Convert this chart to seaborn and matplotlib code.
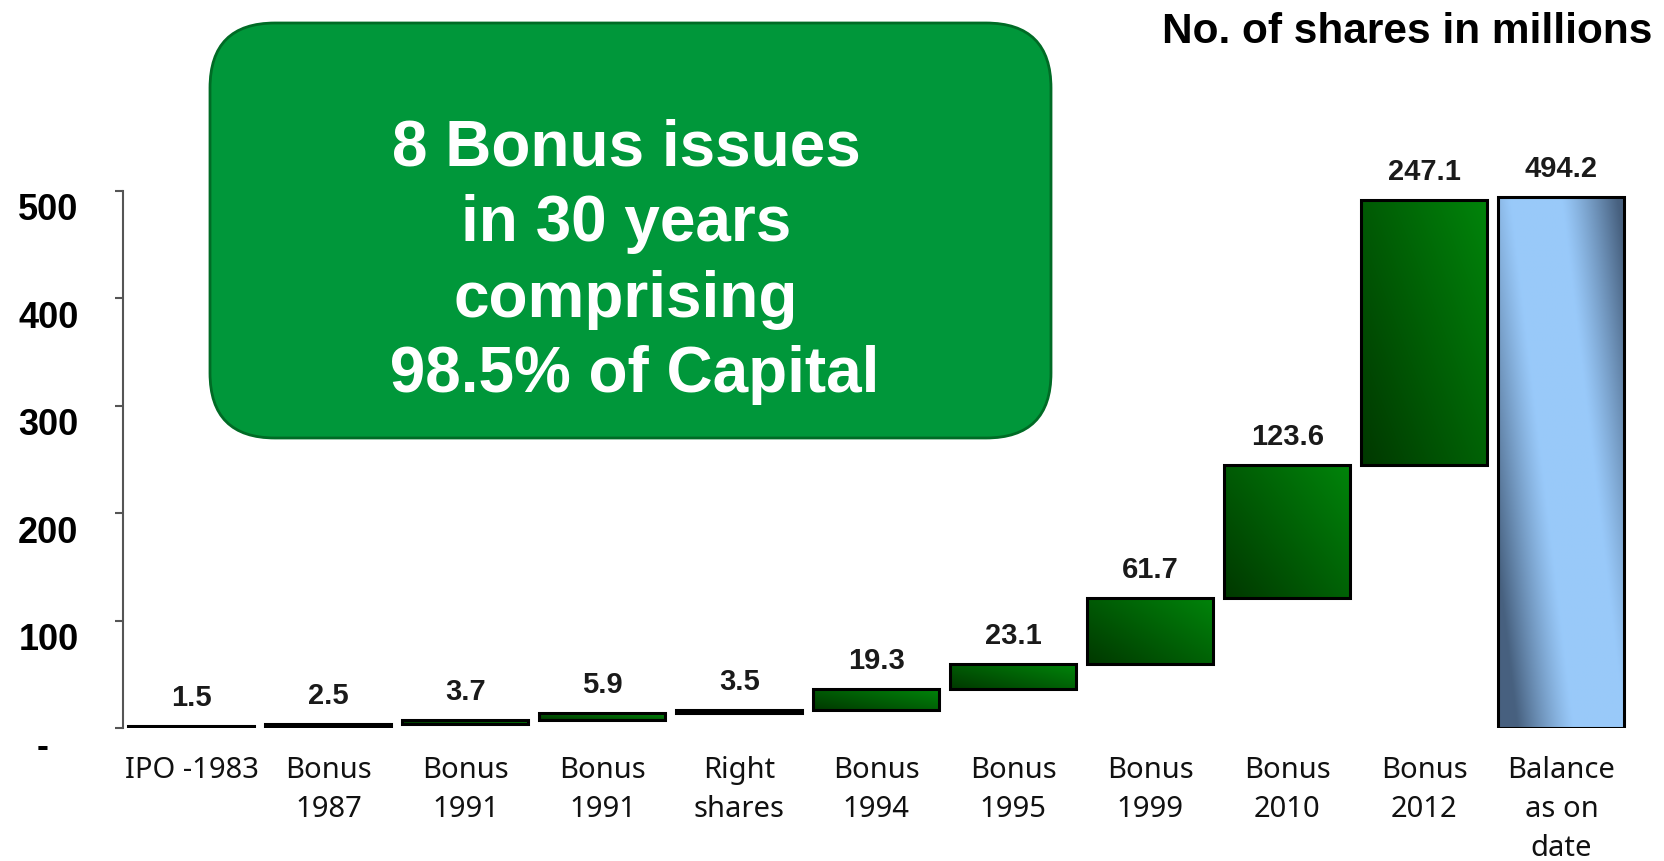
import numpy as np
import pandas as pd
import matplotlib
matplotlib.use("Agg")
import matplotlib.pyplot as plt
import seaborn as sns
from matplotlib.patches import FancyBboxPatch
from matplotlib.transforms import ScaledTranslation, IdentityTransform


stages = ["IPO -1983", "Bonus\n1987", "Bonus\n1991", "Bonus\n1991", "Right\nshares",
          "Bonus\n1994", "Bonus\n1995", "Bonus\n1999", "Bonus\n2010", "Bonus\n2012",
          "Balance\nas on\ndate"]
issued = [1.5, 2.5, 3.7, 5.9, 3.5, 19.3, 23.1, 61.7, 123.6, 247.1]
balance = 494.2
y_ticks = [0, 100, 200, 300, 400, 500]
y_tick_labels = ["-   ", "100", "200", "300", "400", "500"]

heights = issued + [balance]
bottoms = list(np.concatenate([[0], np.cumsum(issued)[:-1]])) + [0]
# two stages share the label "Bonus 1991", so bars are keyed by step number
steps = [f"step{i}" for i in range(len(stages))]
df = pd.DataFrame({"step": steps, "height": heights, "bottom": bottoms})

sns.set_theme(style="white")
plt.rcParams["font.family"] = ["Liberation Sans", "DejaVu Sans"]

fig = plt.figure(figsize=(16.64, 8.61), dpi=100)
ax = fig.add_axes([0.0739, 0.1545, 0.9056, 0.6237])

sns.barplot(data=df, x="step", y="height", order=steps,
            bottom=df["bottom"].to_numpy(),
            color="#006600", width=0.92, errorbar=None,
            edgecolor="black", linewidth=2.2, ax=ax)

# gradient fills clipped to each bar
n = 80
tx = np.linspace(0, 1, n)[None, :]
ty = np.linspace(0, 1, n)[:, None]
t = np.clip(0.55 * tx + 0.45 * ty, 0, 1)
dark_g = np.array([0.0, 0.22, 0.0])
bright_g = np.array([0.0, 0.52, 0.04])
green_img = dark_g + (bright_g - dark_g) * t[..., None]

d = tx - (0.8 - 0.5 * ty)
m = np.clip((np.abs(d) - 0.2) / 0.45, 0, 1) ** 1.2
light_b = np.array([0.60, 0.79, 0.98])
dark_b = np.array([0.28, 0.38, 0.50])
blue_img = light_b * (1 - m[..., None]) + dark_b * m[..., None]

for i, bar in enumerate(list(ax.patches)):
    x0, y0, w, h = bar.get_x(), bar.get_y(), bar.get_width(), bar.get_height()
    img = green_img if i < len(issued) else blue_img
    im = ax.imshow(img, extent=(x0, x0 + w, y0, y0 + h), origin="lower",
                   aspect="auto", zorder=2, interpolation="bilinear")
    im.set_clip_path(bar)
    bar.set_facecolor("none")
    bar.set_zorder(3)

    ax.annotate(f"{heights[i]:.1f}", (x0 + w / 2, y0 + h), xytext=(0, 10),
                textcoords="offset points", ha="center", va="bottom",
                fontsize=21, fontweight="bold", color="#1a1a1a")

ax.set_xlim(-0.5, 10.5)
ax.set_ylim(0, 500)
ax.set_xlabel("")
ax.set_ylabel("")

sns.despine(ax=ax, top=True, right=True, bottom=True)
ax.spines["left"].set_color("#555555")
ax.spines["left"].set_linewidth(1.5)

ax.set_yticks(y_ticks)
ax.set_yticklabels(y_tick_labels, fontsize=26, fontweight="bold", color="black")
ax.tick_params(axis="y", left=True, length=6, width=1.5, color="#555555",
               direction="out", pad=26)
offset = ScaledTranslation(0, -0.16, fig.dpi_scale_trans)
for lab in ax.get_yticklabels():
    lab.set_transform(lab.get_transform() + offset)

ax.set_xticks(range(len(stages)))
ax.set_xticklabels(stages, fontsize=21, family=["Noto Sans", "DejaVu Sans"],
                   linespacing=1.45, color="#111111")
ax.tick_params(axis="x", bottom=False, length=0, pad=20)

# green call-out box
box = FancyBboxPatch((210, 861 - 438), 841, 415,
                     boxstyle="round,pad=0,rounding_size=65",
                     facecolor="#00973a", edgecolor="#006b25", linewidth=2.0,
                     transform=IdentityTransform(), zorder=5)
fig.add_artist(box)
fig.text(626 / 1664, 1 - 262 / 861,
         "8 Bonus issues\nin 30 years\ncomprising\n 98.5% of Capital",
         ha="center", va="center", multialignment="center",
         fontsize=46, fontweight="bold", color="white", linespacing=1.33, zorder=6)

fig.text(1652 / 1664, 1 - 32 / 861, "No. of shares in millions",
         ha="right", va="center", fontsize=30.5, fontweight="bold", color="black")

plt.savefig("out.png", dpi=100)
